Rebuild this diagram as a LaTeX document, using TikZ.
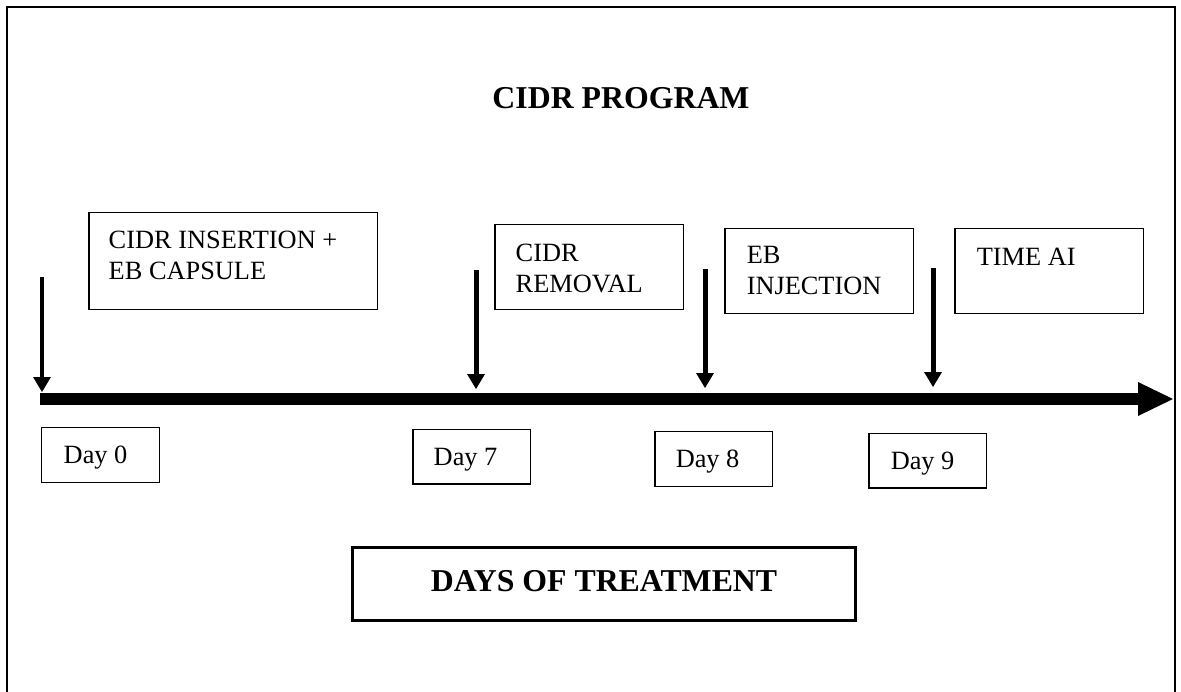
\documentclass[tikz,border=0pt]{standalone}
\usepackage{fontspec}
\setmainfont{Liberation Serif}
\usetikzlibrary{arrows.meta}

\tikzset{
  evbox/.style 2 args={draw, line width=0.03cm, anchor=north west, inner xsep=#1, inner ysep=#2,
    font=\fontsize{15pt}{17.6pt}\selectfont},
  dayarrow/.style={line width=0.1cm, -{Triangle[width=0.36cm, length=0.30cm, line width=0pt]}},
  timeline/.style={line width=0.24cm, -{Triangle[width=0.68cm, length=0.70cm, line width=0pt]}},
  bigtext/.style={font=\fontsize{18.1pt}{21pt}\selectfont\bfseries}
}
\newcommand{\evtext}[3]{\parbox[t][#2][t]{#1}{#3}}

\begin{document}
\begin{tikzpicture}[x=0.02cm, y=-0.02cm]
\useasboundingbox (0,0) rectangle (1181,692);

% Rámeček
\draw[line width=0.03cm] (7,692) -- (7,7) -- (1175,7) -- (1175,692);

% Nadpis
\node[bigtext, inner sep=0pt] (title) at (621,98.5) {CIDR PROGRAM};

% Události nad osou
\node[evbox={0.40cm}{0.36cm}] (ins) at (88,212) {\evtext{4.98cm}{1.22cm}{CIDR INSERTION +\\EB CAPSULE}};
\node[evbox={0.42cm}{0.38cm}] (rem) at (494,224) {\evtext{2.94cm}{0.94cm}{CIDR\\REMOVAL}};
\node[evbox={0.44cm}{0.36cm}] (inj) at (724,228) {\evtext{2.90cm}{0.98cm}{EB\\INJECTION}};
\node[evbox={0.44cm}{0.38cm}] (ai) at (954,228) {\evtext{2.90cm}{0.94cm}{TIME AI}};

% Časová osa
\coordinate (start) at (40,399);
\coordinate (end) at (1173,399);
\draw[timeline] (start) -- (end);

% Šipky dnů
\coordinate (a0) at (42,277);  \coordinate (t0) at (42,392);
\coordinate (a7) at (476,270); \coordinate (t7) at (476,389);
\coordinate (a8) at (705,269); \coordinate (t8) at (705,388);
\coordinate (a9) at (933,268); \coordinate (t9) at (933,387);
\draw[dayarrow] (a0) -- (t0);
\draw[dayarrow] (a7) -- (t7);
\draw[dayarrow] (a8) -- (t8);
\draw[dayarrow] (a9) -- (t9);

% Dny pod osou
\node[evbox={0.44cm}{0.37cm}] (day0) at (41,427) {\evtext{1.48cm}{0.28cm}{Day 0}};
\node[evbox={0.42cm}{0.37cm}] (day7) at (412,429) {\evtext{1.52cm}{0.28cm}{Day 7}};
\node[evbox={0.42cm}{0.37cm}] (day8) at (654,431) {\evtext{1.52cm}{0.28cm}{Day 8}};
\node[evbox={0.44cm}{0.37cm}] (day9) at (868,433) {\evtext{1.48cm}{0.28cm}{Day 9}};

% Popisek osy
\node[bigtext, draw, line width=0.06cm, minimum width=10.08cm, minimum height=1.48cm,
  text depth=0.12cm, inner sep=0pt] (days) at (604,584) {DAYS OF TREATMENT};
\end{tikzpicture}
\end{document}
